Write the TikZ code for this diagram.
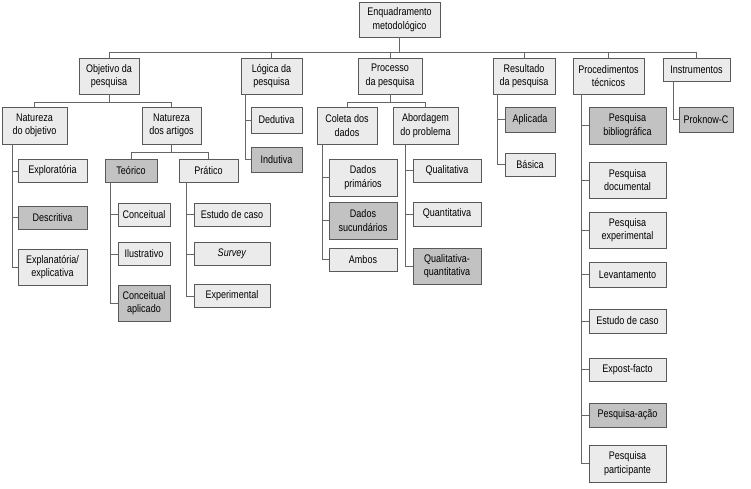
\documentclass[tikz,border=0pt]{standalone}
\usepackage{fontspec}
\setmainfont{Liberation Sans}[FakeStretch=0.82]
\begin{document}
\begin{tikzpicture}[x=1pt,y=-1pt,
  bx/.style={draw=black!65,line width=0.8pt,fill=black!8,inner sep=0pt,align=center,
    font=\fontsize{11}{13.5}\selectfont},
  lbox/.style={bx},
  dbox/.style={bx,fill=black!24},
  conn/.style={draw=black!60,line width=0.8pt},
  sz/.style 2 args={minimum width=#1pt,minimum height=#2pt}]
\useasboundingbox (0,0) rectangle (751,489);
% root
\node[lbox,sz={81}{35}] (root) at (399.5,19.5) {Enquadramento\\metodológico};
% level 1
\node[lbox,sz={60}{36}] (obj) at (109,76) {Objetivo da\\pesquisa};
\node[lbox,sz={61}{36}] (log) at (271.5,76) {Lógica da\\pesquisa};
\node[lbox,sz={64}{36}] (proc) at (390,76) {Processo\\da pesquisa};
\node[lbox,sz={62}{36}] (res) at (524,76) {Resultado\\da pesquisa};
\node[lbox,sz={71}{36}] (pt) at (608.5,76) {Procedimentos\\técnicos};
\node[lbox,sz={67}{23}] (inst) at (696.5,69.5) {Instrumentos};
% level 2
\node[lbox,sz={65}{37}] (nobj) at (34.5,125.5) {Natureza\\do objetivo};
\node[lbox,sz={59}{37}] (nart) at (171.5,125.5) {Natureza\\dos artigos};
\node[lbox,sz={60}{37}] (col) at (347,125.5) {Coleta dos\\dados};
\node[lbox,sz={65}{37}] (abo) at (425.5,125.5) {Abordagem\\do problema};
\node[lbox,sz={51}{26}] (ded) at (276.5,120) {Dedutiva};
\node[dbox,sz={51}{25}] (ind) at (276.5,159.5) {Indutiva};
\node[dbox,sz={50}{25}] (apl) at (530,119.5) {Aplicada};
\node[lbox,sz={50}{23}] (bas) at (530,164.5) {Básica};
\node[dbox,sz={54}{25}] (prok) at (706,119.5) {Proknow-C};
% procedimentos tecnicos
\node[dbox,sz={77}{37}] (bib) at (627.5,125.5) {Pesquisa\\bibliográfica};
\node[lbox,sz={77}{36}] (doc) at (627.5,180) {Pesquisa\\documental};
\node[lbox,sz={77}{36}] (pexp) at (627.5,230) {Pesquisa\\experimental};
\node[lbox,sz={77}{25}] (lev) at (627.5,274.5) {Levantamento};
\node[lbox,sz={77}{24}] (estp) at (627.5,321) {Estudo de caso};
\node[lbox,sz={77}{23}] (expo) at (627.5,369.5) {Expost-facto};
\node[dbox,sz={77}{24}] (acao) at (627.5,415) {Pesquisa-ação};
\node[lbox,sz={77}{37}] (part) at (627.5,463.5) {Pesquisa\\participante};
% natureza do objetivo
\node[lbox,sz={69}{23}] (explo) at (52.5,171) {Exploratória};
\node[dbox,sz={69}{23}] (desc) at (52.5,217.5) {Descritiva};
\node[lbox,sz={69}{36}] (expl) at (52.5,267) {Explanatória/\\explicativa};
% natureza dos artigos
\node[dbox,sz={52}{23}] (teo) at (131,171) {Teórico};
\node[lbox,sz={59}{23}] (pra) at (208.5,171) {Prático};
\node[lbox,sz={52}{23}] (conc) at (144,214.5) {Conceitual};
\node[lbox,sz={52}{23}] (ilus) at (144,254) {Ilustrativo};
\node[dbox,sz={52}{36}] (capl) at (144,303) {Conceitual\\aplicado};
\node[lbox,sz={76}{23}] (estc) at (232,214.5) {Estudo de caso};
\node[lbox,sz={76}{23}] (surv) at (232,254) {\textit{Survey}};
\node[lbox,sz={76}{23}] (expm) at (232,296) {Experimental};
% coleta
\node[lbox,sz={68}{37}] (dp) at (363,177.5) {Dados\\primários};
\node[dbox,sz={68}{37}] (ds) at (363,220.5) {Dados\\sucundários};
\node[lbox,sz={68}{23}] (amb) at (363,259.5) {Ambos};
% abordagem
\node[lbox,sz={68}{23}] (qual) at (447,170.5) {Qualitativa};
\node[lbox,sz={68}{24}] (quan) at (447,214) {Quantitativa};
\node[dbox,sz={68}{36}] (qq) at (447,266) {Qualitativa-\\quantitativa};

% connectors: top bus
\coordinate (busA) at (0,52);
\draw[conn] (root.south) -- (root.south |- busA);
\draw[conn] (obj.north |- busA) -- (inst.north |- busA);
\foreach \n in {obj,log,proc,res,pt,inst}
  \draw[conn] (\n.north) -- (\n.north |- busA);
% objetivo bus
\coordinate (busB) at (0,102);
\draw[conn] (obj.south) -- (obj.south |- busB);
\draw[conn] (nobj.north |- busB) -- (nart.north |- busB);
\draw[conn] (nobj.north) -- (nobj.north |- busB);
\draw[conn] (nart.north) -- (nart.north |- busB);
% processo bus
\draw[conn] (proc.south) -- (proc.south |- busB);
\draw[conn] (col.north |- busB) -- (abo.north |- busB);
\draw[conn] (col.north) -- (col.north |- busB);
\draw[conn] (abo.north) -- (abo.north |- busB);
% natureza dos artigos bus
\coordinate (busC) at (0,152);
\draw[conn] (nart.south) -- (nart.south |- busC);
\draw[conn] (teo.north |- busC) -- (pra.north |- busC);
\draw[conn] (teo.north) -- (teo.north |- busC);
\draw[conn] (pra.north) -- (pra.north |- busC);
% side trees
\coordinate (xlog) at (245,0);
\draw[conn] (log.south -| xlog) |- (ind.west);
\draw[conn] (ded.west) -- (ded.west -| xlog);
\coordinate (xres) at (497,0);
\draw[conn] (res.south -| xres) |- (bas.west);
\draw[conn] (apl.west) -- (apl.west -| xres);
\coordinate (xins) at (673,0);
\draw[conn] (inst.south -| xins) |- (prok.west);
\coordinate (xpt) at (581.5,0);
\draw[conn] (pt.south -| xpt) |- (part.west);
\foreach \n in {bib,doc,pexp,lev,estp,expo,acao}
  \draw[conn] (\n.west) -- (\n.west -| xpt);
\coordinate (xnobj) at (12,0);
\draw[conn] (nobj.south -| xnobj) |- (expl.west);
\foreach \n in {explo,desc}
  \draw[conn] (\n.west) -- (\n.west -| xnobj);
\coordinate (xteo) at (110,0);
\draw[conn] (teo.south -| xteo) |- (capl.west);
\foreach \n in {conc,ilus}
  \draw[conn] (\n.west) -- (\n.west -| xteo);
\coordinate (xpra) at (186,0);
\draw[conn] (pra.south -| xpra) |- (expm.west);
\foreach \n in {estc,surv}
  \draw[conn] (\n.west) -- (\n.west -| xpra);
\coordinate (xcol) at (322,0);
\draw[conn] (col.south -| xcol) |- (amb.west);
\foreach \n in {dp,ds}
  \draw[conn] (\n.west) -- (\n.west -| xcol);
\coordinate (xabo) at (405,0);
\draw[conn] (abo.south -| xabo) |- (qq.west);
\foreach \n in {qual,quan}
  \draw[conn] (\n.west) -- (\n.west -| xabo);
\end{tikzpicture}
\end{document}
